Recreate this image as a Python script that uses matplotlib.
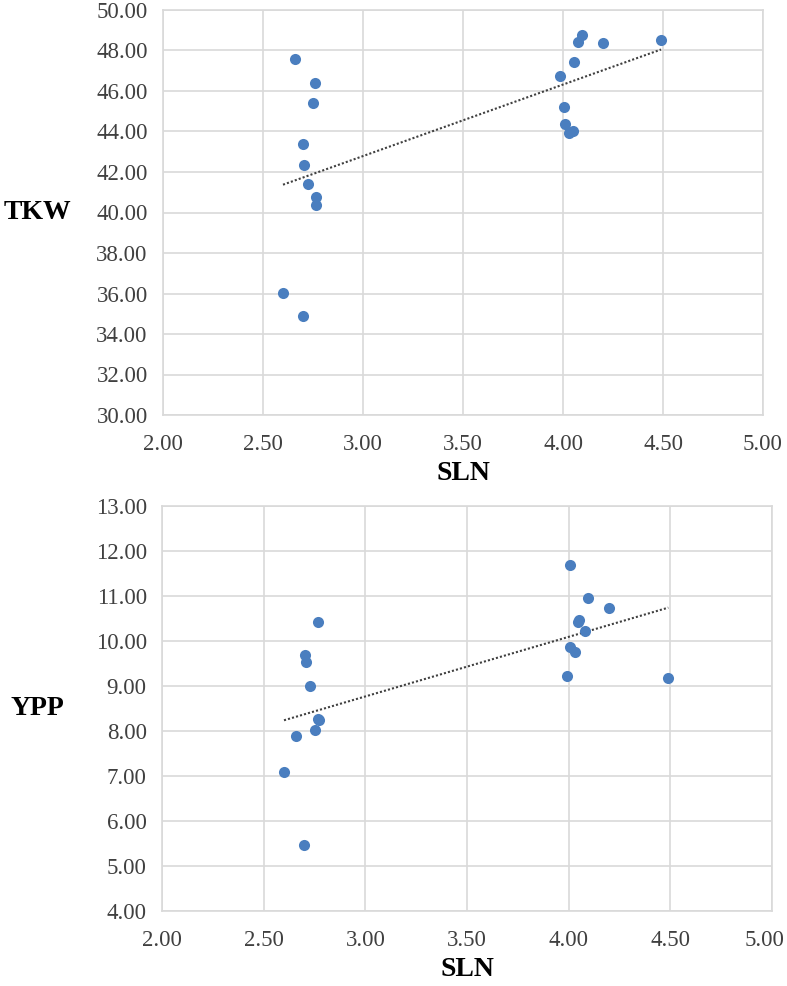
import matplotlib.pyplot as plt
import numpy as np
from matplotlib.ticker import FormatStrFormatter
from matplotlib.transforms import ScaledTranslation

# TKW vs SLN (top panel)
sln_tkw = [2.66, 2.76, 2.75, 2.70, 2.705, 2.727, 2.767, 2.763, 2.60, 2.70,
           4.093, 4.073, 4.20, 4.49, 4.053, 3.985, 4.005, 4.008, 4.03, 4.05]
tkw = [47.60, 46.38, 45.41, 43.38, 42.36, 41.42, 40.78, 40.39, 36.04, 34.90,
       48.77, 48.42, 48.36, 48.53, 47.42, 46.73, 45.23, 44.37, 43.91, 44.00]

# YPP vs SLN (bottom panel)
sln_ypp = [2.765, 2.703, 2.708, 2.728, 2.765, 2.752, 2.66, 2.60, 2.70, 2.77,
           4.006, 4.095, 4.20, 4.05, 4.045, 4.08, 4.008, 4.033, 3.99, 4.49]
ypp = [10.43, 9.70, 9.53, 8.99, 8.27, 8.02, 7.88, 7.10, 5.47, 8.25,
       11.68, 10.95, 10.73, 10.47, 10.43, 10.22, 9.87, 9.76, 9.22, 9.18]

x_ticks = [2.0, 2.5, 3.0, 3.5, 4.0, 4.5, 5.0]
tkw_ticks = list(range(30, 51, 2))
ypp_ticks = list(range(4, 14))

W, H = 787, 986
plt.rcParams['font.family'] = ['Liberation Serif', 'DejaVu Serif']

fig = plt.figure(figsize=(W / 100, H / 100), dpi=100)

grid_col = '#d9d9d9'
dot_col = '#4a7ebf'
txt_col = '#404040'


def panel(rect, x, y, yticks, ylabel, last_shift=0):
    l, t, r, b = rect
    ax = fig.add_axes([l / W, 1 - b / H, (r - l) / W, (b - t) / H])
    ax.scatter(x, y, s=64, color=dot_col, zorder=3, linewidths=0)
    coef = np.polyfit(x, y, 1)
    xs = np.array([min(x), max(x)])
    ax.plot(xs, np.polyval(coef, xs), color='#404040', linestyle=(0, (1, 1)),
            linewidth=1.5, zorder=2)
    ax.set_xlim(x_ticks[0], x_ticks[-1])
    ax.set_ylim(yticks[0], yticks[-1])
    ax.set_xticks(x_ticks)
    ax.set_yticks(yticks)
    ax.xaxis.set_major_formatter(FormatStrFormatter('%.2f'))
    ax.yaxis.set_major_formatter(FormatStrFormatter('%.2f'))
    ax.grid(True, color=grid_col, linewidth=1.2)
    ax.set_axisbelow(True)
    for s in ax.spines.values():
        s.set_color(grid_col)
        s.set_linewidth(1.2)
    ax.tick_params(length=0, labelsize=16.5, colors=txt_col, pad=11)
    ax.tick_params(axis='x', pad=14)
    ax.set_xlabel('SLN', fontsize=20, fontweight='bold', color='black', labelpad=4)
    ax.set_ylabel(ylabel, fontsize=20, fontweight='bold', color='black',
                  rotation=0, ha='center', va='center')
    ax.yaxis.set_label_coords(-(l - 37) / (r - l), 0.5)
    if last_shift:
        # keep the last x label inside the figure, as in the original
        lab = ax.get_xticklabels()[-1]
        lab.set_transform(lab.get_transform() +
                          ScaledTranslation(last_shift / 100, 0, fig.dpi_scale_trans))
    return ax


panel((163, 10, 763, 415), sln_tkw, tkw, tkw_ticks, 'TKW')
panel((162, 506, 772, 911), sln_ypp, ypp, ypp_ticks, 'YPP', last_shift=-8)

fig.savefig('out.png', dpi=100)
